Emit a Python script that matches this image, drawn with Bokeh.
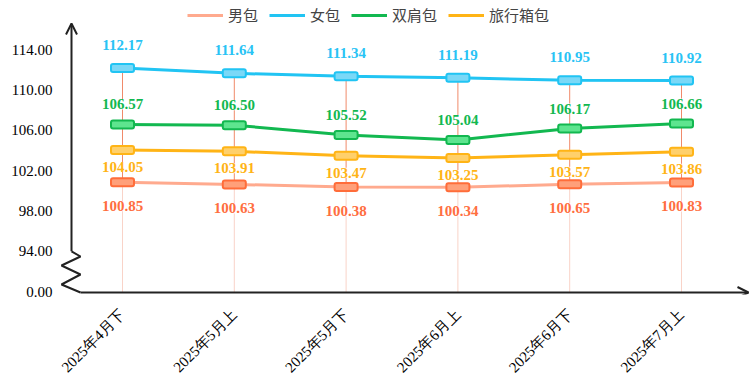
import math
from bokeh.plotting import figure
from bokeh.models import (ColumnDataSource, FixedTicker, Arrow, OpenHead, Label,
                          LabelSet, Range1d, Legend, LegendItem)
from bokeh.embed import file_html
from bokeh.resources import INLINE

# ---------------- data ----------------
categories = ["2025年4月下", "2025年5月上", "2025年5月下", "2025年6月上", "2025年6月下", "2025年7月上"]
series_names = ["男包", "女包", "双肩包", "旅行箱包"]
men = [100.85, 100.63, 100.38, 100.34, 100.65, 100.83]
women = [112.17, 111.64, 111.34, 111.19, 110.95, 110.92]
backpack = [106.57, 106.50, 105.52, 105.04, 106.17, 106.66]
luggage = [104.05, 103.91, 103.47, 103.25, 103.57, 103.86]
y_ticks = [94, 98, 102, 106, 110, 114]
zero_label = "0.00"
unit_label = "%"

# ---------------- layout ----------------
W, H = 753, 388
FRAME_LEFT = 58
FRAME_H = 294
X_PX = 111.8
Y_PX = 10.09
X_START = -(122 - FRAME_LEFT) / X_PX
X_END = X_START + (W - FRAME_LEFT) / X_PX
Y_END = 114 + 49 / Y_PX
Y_START = Y_END - FRAME_H / Y_PX
BREAK_BASE = 90  # display position of the "0" tick below the axis break


def fx(rx):
    return X_START + (rx - FRAME_LEFT) / X_PX


def fy(ry):
    return Y_END - ry / Y_PX


SERIF = "Liberation Serif"
CJK = "Noto Sans CJK SC"

p = figure(width=W, height=H, output_backend="svg", toolbar_location=None,
           x_range=Range1d(X_START, X_END), y_range=Range1d(Y_START, Y_END),
           min_border_left=FRAME_LEFT, min_border_right=0, min_border_top=0,
           min_border_bottom=H - FRAME_H)
p.outline_line_color = None
p.xgrid.visible = False
p.ygrid.visible = False
p.background_fill_color = "white"

# axes (labels only; lines drawn by hand with the break)
idx = list(range(len(categories)))
p.xaxis.ticker = FixedTicker(ticks=idx)
p.xaxis.major_label_overrides = {i: c for i, c in zip(idx, categories)}
p.xaxis.major_label_orientation = math.pi / 4
p.xaxis.axis_line_color = None
p.xaxis.major_tick_line_color = None
p.xaxis.minor_tick_line_color = None
p.xaxis.major_label_text_font = SERIF
p.xaxis.major_label_text_font_size = "15px"
p.xaxis.major_label_text_color = "black"
p.xaxis.major_label_standoff = 11

ticks_y = [BREAK_BASE] + y_ticks
p.yaxis.ticker = FixedTicker(ticks=ticks_y)
ov = {t: f"{t:.2f}" for t in y_ticks}
ov[BREAK_BASE] = zero_label
p.yaxis.major_label_overrides = ov
p.yaxis.axis_line_color = None
p.yaxis.major_tick_line_color = None
p.yaxis.minor_tick_line_color = None
p.yaxis.major_label_text_font = SERIF
p.yaxis.major_label_text_font_size = "15px"
p.yaxis.major_label_text_color = "black"
p.yaxis.major_label_standoff = 0

# axis lines with break and arrows
ax_x = fx(71)
ax_y = fy(292)
p.add_layout(Arrow(end=OpenHead(size=11, line_width=2, line_color="#222222"),
                   x_start=ax_x, y_start=y_ticks[0], x_end=ax_x, y_end=fy(23),
                   line_width=2, line_color="#222222"))
zz_x = [fx(71), fx(80), fx(61), fx(80), fx(61), fx(80)]
zz_y = [y_ticks[0], fy(256), fy(265), fy(274), fy(284), ax_y]
p.line(zz_x, zz_y, line_width=2, line_color="#222222")
p.add_layout(Arrow(end=OpenHead(size=11, line_width=2, line_color="#222222"),
                   x_start=fx(80), y_start=ax_y, x_end=fx(748), y_end=ax_y,
                   line_width=2, line_color="#222222"))

p.add_layout(Label(x=fx(35), y=fy(28), text=unit_label, text_font=SERIF,
                   text_font_size="15px", text_align="center", text_baseline="middle"))

# drop lines
p.segment(x0=idx, y0=men, x1=idx, y1=women, line_color="#F08A6A", line_width=1)
p.segment(x0=idx, y0=[ax_y] * len(idx), x1=idx, y1=men, line_color="#F9D3C8", line_width=1)

styles = {
    "男包": dict(vals=men, line="#FFAA8E", edge="#FF6D3A", fill="#FFA07A", text="#FF6E40", off=-24),
    "女包": dict(vals=women, line="#21C4F3", edge="#21C4F3", fill="#7AD8F7", text="#29C3F5", off=23),
    "双肩包": dict(vals=backpack, line="#12B850", edge="#12B850", fill="#5EE58F", text="#12B850", off=20),
    "旅行箱包": dict(vals=luggage, line="#FFB416", edge="#FFB416", fill="#FFD06B", text="#FFB416", off=-17),
}

items = []
for name in series_names:
    s = styles[name]
    src = ColumnDataSource(dict(x=idx, y=s["vals"], t=[f"{v:.2f}" for v in s["vals"]]))
    lr = p.line("x", "y", source=src, line_width=3, line_color=s["line"])
    p.rect("x", "y", source=src, width=23, height=8, width_units="screen",
           height_units="screen", fill_color=s["fill"], line_color=s["edge"], line_width=2,
           border_radius=2)
    lg = p.scatter(x=[], y=[], marker="square", size=8, fill_color=s["fill"],
                   line_color=s["edge"], line_width=1.5)
    items.append(LegendItem(label=name, renderers=[lr, lg]))
    p.add_layout(LabelSet(x="x", y="y", text="t", source=src, y_offset=s["off"],
                          text_align="center", text_baseline="middle",
                          text_font=SERIF, text_font_size="15px", text_font_style="bold",
                          text_color=s["text"], background_fill_color="white"))

legend = Legend(items=items, location=(129, FRAME_H - 25), orientation="horizontal",
                label_text_font=CJK, label_text_font_size="15px",
                glyph_width=36, glyph_height=12, spacing=11, padding=0, margin=0,
                label_standoff=5, border_line_color=None, background_fill_alpha=0)
p.add_layout(legend)

open("out.html", "w").write(file_html(p, INLINE))
